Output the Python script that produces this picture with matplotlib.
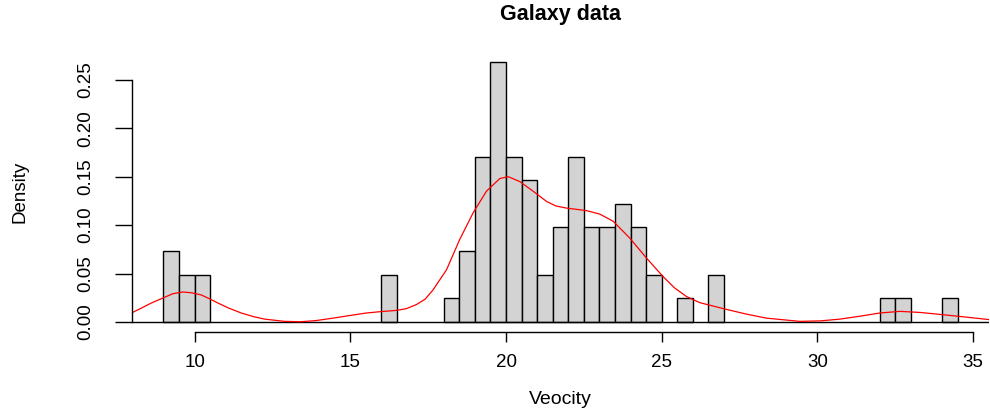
import matplotlib.pyplot as plt

plt.rcParams['font.family'] = ['Liberation Sans', 'DejaVu Sans']

# histogram bins (left edges, width 0.5) and counts
bin_left = [9.0, 9.5, 10.0, 16.0, 18.0, 18.5, 19.0, 19.5, 20.0, 20.5, 21.0, 21.5,
            22.0, 22.5, 23.0, 23.5, 24.0, 24.5, 25.5, 26.5, 32.0, 32.5, 34.0]
counts = [3, 2, 2, 2, 1, 3, 7, 11, 7, 6, 2, 4,
          7, 4, 4, 5, 4, 2, 1, 2, 1, 1, 1]
bin_width = 0.5

# density curve
curve_x = [7.97, 8.3, 8.61, 9.0, 9.3, 9.62, 9.9, 10.21, 10.48, 10.75, 11.1, 11.5, 11.9,
           12.25, 12.89, 13.4, 13.9, 14.44, 15.0, 15.51, 16.0, 16.48, 16.8, 17.12, 17.4,
           17.66, 18.09, 18.51, 18.94, 19.37, 19.8, 20.07, 20.44, 20.87, 21.3, 21.6,
           21.94, 22.58, 23.01, 23.44, 23.97, 24.51, 25.04, 25.4, 25.79, 26.22, 27.03,
           27.7, 28.36, 29.43, 30.1, 30.72, 31.4, 32.0, 32.65, 33.29, 33.8, 34.35, 35.0, 35.54]
curve_y = [0.0093, 0.0145, 0.0196, 0.025, 0.0292, 0.031, 0.0302, 0.028, 0.024, 0.0196,
           0.0143, 0.0093, 0.0055, 0.003, 0.0007, 0.0003, 0.0015, 0.004, 0.0068, 0.0093,
           0.0108, 0.012, 0.0138, 0.018, 0.0235, 0.0333, 0.054, 0.085, 0.1125, 0.135,
           0.1481, 0.150, 0.145, 0.135, 0.1245, 0.1198, 0.1176, 0.115, 0.1114, 0.104,
           0.0867, 0.066, 0.047, 0.0355, 0.0264, 0.020, 0.0134, 0.0083, 0.004, 0.0007,
           0.0012, 0.003, 0.0062, 0.0093, 0.011, 0.0099, 0.0083, 0.0065, 0.0043, 0.0024]

x_ticks = [10, 15, 20, 25, 30, 35]
y_ticks = [0.00, 0.05, 0.10, 0.15, 0.20, 0.25]

total = sum(counts)
density = [c / (total * bin_width) for c in counts]

fig = plt.figure(figsize=(9.9, 4.09), dpi=100)
ax = fig.add_axes([0.133, 0.1873, 0.8664, 0.6856])

ax.bar(bin_left, density, width=bin_width, align='edge',
       color='#D3D3D3', edgecolor='black', linewidth=1.0)
ax.axhline(0, color='black', linewidth=1.0)
ax.plot(curve_x, curve_y, color='red', linewidth=0.9)

ax.set_xlim(7.98, 35.52)
ax.set_ylim(-0.0107, 0.2787)

for s in ['top', 'right']:
    ax.spines[s].set_visible(False)
ax.spines['bottom'].set_bounds(10, 35)
ax.spines['left'].set_bounds(0, 0.25)
ax.spines['bottom'].set_linewidth(1.0)
ax.spines['left'].set_linewidth(1.0)

ax.set_xticks(x_ticks)
ax.set_xticklabels([str(t) for t in x_ticks], fontsize=13.5)
ax.set_yticks(y_ticks)
ax.set_yticklabels(['%.2f' % t for t in y_ticks], fontsize=13.5,
                   rotation=90, va='center')
ax.tick_params(axis='x', length=7.2, width=1.0, pad=8)
ax.tick_params(axis='y', length=12, width=1.0, pad=15)

ax.set_xlabel('Veocity', fontsize=14, labelpad=15)
ax.set_ylabel('Density', fontsize=13.5, labelpad=35)
ax.set_title('Galaxy data', fontsize=15.5, fontweight='bold', pad=23)

fig.savefig('out.png', dpi=100)
